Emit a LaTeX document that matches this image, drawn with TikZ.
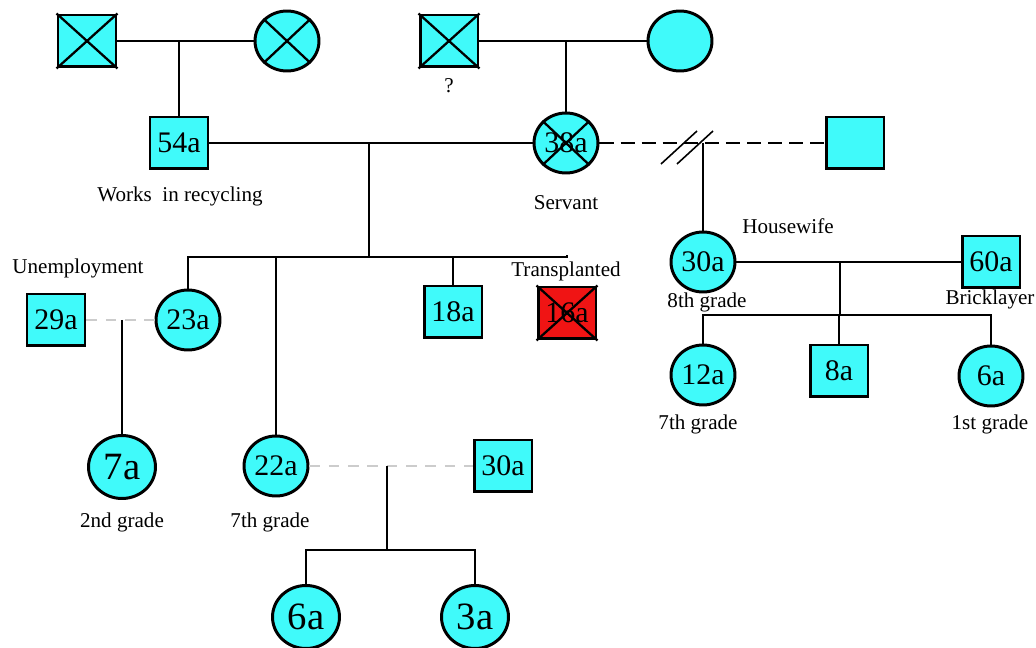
\documentclass[tikz,border=0pt]{standalone}
\usepackage{fontspec}
\setmainfont{Liberation Serif}
\usetikzlibrary{positioning}
\usetikzlibrary{shapes.geometric}
\definecolor{aqua}{RGB}{64,250,250}
\definecolor{redT}{RGB}{240,20,20}

\begin{document}
\begin{tikzpicture}[x=0.02cm,y=-0.02cm,
  male/.style={rectangle,draw,line width=1.7pt,fill=aqua,minimum width=1.16cm,minimum height=1.04cm,inner sep=0pt,font=\fontsize{17}{17}\selectfont},
  female/.style={ellipse,draw,line width=1.7pt,fill=aqua,minimum width=1.28cm,minimum height=1.2cm,inner sep=0pt,font=\fontsize{17}{17}\selectfont},
  bigger/.style={font=\fontsize{22}{22}\selectfont,minimum width=1.34cm,minimum height=1.26cm},
  note/.style={font=\fontsize{12}{12}\selectfont},
  link/.style={line width=0.9pt},
  casual/.style={line width=0.9pt,gray!40,dash pattern=on 6pt off 5pt},
]
\useasboundingbox (0,0) rectangle (1036,648);

% grandparents
\node[male] (gfa) at (87,41) {};
\node[female] (gma) at (287,41) {};
\node[male] (gfb) at (449,41) {};
\node[female] (gmb) at (680,41) {};

% parents
\node[male] (p54) at (179,143) {54a};
\node[female] (p38) at (566,143) {38a};
\node[male] (pex) at (855,143) {};

% children
\node[male] (p29) at (56,320) {29a};
\node[female] (p23) at (188,320) {23a};
\node[male] (p18) at (453,312) {18a};
\node[male,fill=redT] (p16) at (567,313) {16a};
\node[female,bigger] (p7) at (122,467) {7a};
\node[female] (p22) at (276,466) {22a};
\node[male] (p30b) at (503,466) {30a};
\node[female,bigger] (p6b) at (306,617) {6a};
\node[female,bigger] (p3) at (475,617) {3a};
\node[female] (p30) at (703,262) {30a};
\node[male] (p60) at (991,262) {60a};
\node[female] (p12) at (703,375) {12a};
\node[male] (p8) at (839,371) {8a};
\node[female] (p6) at (991,376) {6a};

% crossed out
\foreach \n in {gfa,gma,gfb,p38,p16}
  \draw[line width=1.3pt] (\n.north west) -- (\n.south east) (\n.north east) -- (\n.south west);

% texts
\node[note] (lw) at (180,196) {Works\ \ in recycling};
\node[note] (lq) at (449,86) {?};
\node[note] (ls) at (566,203) {Servant};
\node[note] (lu) at (78,268) {Unemployment};
\node[note] (lt) at (566,271) {Transplanted};
\node[note] (l2) at (122,522) {2nd grade};
\node[note] (l7a) at (270,522) {7th grade};
\node[note] (lh) at (788,226) {Housewife};
\node[note] (l8) at (707,302) {8th grade};
\node[note] (lb) at (990,299) {Bricklayer};
\node[note] (l7b) at (698,424) {7th grade};
\node[note] (l1) at (990,424) {1st grade};

% lines
\draw[link] (gfa) -- (gma);
\draw[link] (gfa -| p54) -- (p54);
\draw[link] (gfb) -- (gmb);
\draw[link] (gfb -| p38) -- (p38);
\draw[link] (p54) -- (p38);
\coordinate (s1) at (369,257);
\draw[link] (p54 -| s1) -- (s1);
\draw[link] (p23) |- (s1 -| p16) -- (lt.north -| p16);
\draw[link] (s1 -| p22) -- (p22);
\draw[link] (s1 -| p18) -- (p18);
\draw[casual] (p29) -- (p23);
\draw[link] (p29 -| p7) -- (p7);
\draw[casual] (p22) -- (p30b);
\coordinate (s2) at (387,550);
\draw[link] (p22 -| s2) -- (s2);
\draw[link] (p6b) |- (s2) -| (p3);

\draw[link,dash pattern=on 8pt off 4pt] (p38) -- (pex);
\draw[link] (661,164) -- (697,131);
\draw[link] (677,164) -- (713,131);
\draw[link] (p38 -| p30) -- (p30);
\draw[link] (p30) -- (p60);
\coordinate (s3) at (840,315);
\draw[link] (p30 -| s3) -- (s3);
\draw[link] (p12) |- (s3) -| (p6);
\draw[link] (s3 -| p8) -- (p8);

\end{tikzpicture}
\end{document}
